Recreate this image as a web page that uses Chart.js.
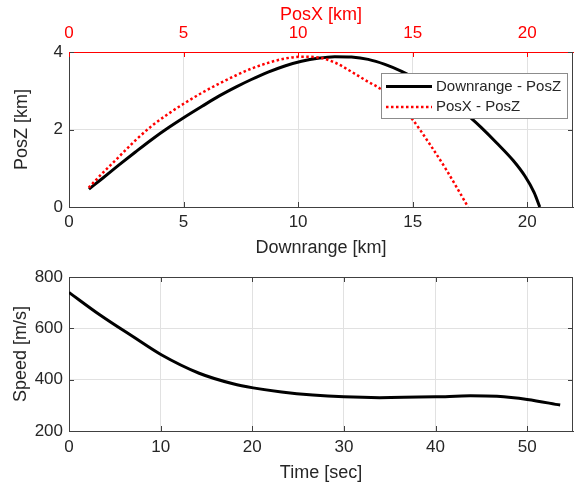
<!DOCTYPE html>
<html>
<head>
<meta charset="utf-8">
<script src="https://cdn.jsdelivr.net/npm/chart.js@4.4.0/dist/chart.umd.min.js"></script>
<style>
    html, body { margin: 0; padding: 0; background: #fff; }
    #wrap { position: relative; width: 583px; height: 487px; }
    canvas { position: absolute; left: 0; }
    #trajChart { top: 0; }
    #speedChart { top: 258px; }
</style>
</head>
<body>
<div id="wrap">
    <canvas id="trajChart" width="583" height="258"></canvas>
    <canvas id="speedChart" width="583" height="229"></canvas>
</div>
<script>
// trajectory: downrange vs altitude [km]
const downrange = [0.87, 1.44, 2.17, 2.90, 3.63, 4.35, 5.02, 5.81, 6.54, 7.30, 7.96, 8.69, 9.42, 10.15,
    10.87, 11.60, 12.33, 13.06, 13.79, 14.52, 15.30, 16.20, 16.90, 17.50, 18.00, 18.66, 19.39, 19.90, 20.30, 20.55];
const posZ = [0.46, 0.73, 1.08, 1.42, 1.75, 2.05, 2.31, 2.60, 2.86, 3.10, 3.29, 3.48, 3.64, 3.76,
    3.84, 3.88, 3.87, 3.81, 3.68, 3.50, 3.26, 2.93, 2.62, 2.32, 2.05, 1.66, 1.20, 0.80, 0.38, 0.00];

// trajectory: PosX vs altitude [km]
const posX = [0.86, 1.44, 2.17, 2.90, 3.63, 4.35, 5.02, 5.81, 6.54, 7.30, 7.96, 8.69, 9.42, 10.15,
    10.87, 11.60, 12.33, 13.06, 13.57, 14.30, 14.95, 15.75, 16.48, 17.42];
const posZx = [0.50, 0.86, 1.29, 1.72, 2.10, 2.41, 2.67, 2.95, 3.18, 3.40, 3.57, 3.72, 3.83, 3.88,
    3.86, 3.73, 3.49, 3.23, 3.06, 2.70, 2.29, 1.62, 0.95, 0.00];

// speed over flight time
const timeSec = [0, 3.35, 6.97, 10.07, 14.2, 17.9, 20.1, 23.2, 26.6, 30.0, 33.9, 40.0, 43.8, 46.7, 50.0, 53.6];
const speed = [740, 653, 568, 497, 425, 384, 368, 352, 340, 333, 330, 333, 337, 335, 323, 301];

const rangeTicks = [0, 5, 10, 15, 20];
const altTicks = [0, 2, 4];
const timeTicks = [0, 10, 20, 30, 40, 50];
const speedTicks = [200, 400, 600, 800];

const FONT = '"Liberation Sans", Arial, Helvetica, sans-serif';
const TEXT = '#262626';
const AXIS = '#404040';
const GRID = '#e1e1e1';
const RED = '#ff0000';

Chart.defaults.font.family = FONT;
Chart.defaults.color = TEXT;

function points(xs, ys) {
    return xs.map(function (x, i) { return { x: x, y: ys[i] }; });
}

function fixedTicks(values) {
    return function (scale) {
        scale.ticks = values.map(function (v) { return { value: v }; });
    };
}

function fixHeight(h) {
    return function (scale) { scale.height = h; };
}

function fixWidth(w) {
    return function (scale) { scale.width = w; };
}

// closes the plot box and adds short inward tick marks on every side
const axesBox = {
    id: 'axesBox',
    afterDatasetsDraw: function (chart, args, opts) {
        const ctx = chart.ctx;
        const a = chart.chartArea;
        const len = 5;
        const xs = chart.scales.x, ys = chart.scales.y;
        const top = opts.topScale ? chart.scales[opts.topScale] : xs;
        ctx.save();
        ctx.lineWidth = 1;
        ctx.strokeStyle = AXIS;
        ctx.beginPath();
        ctx.moveTo(Math.round(a.right) - 0.5, a.top);
        ctx.lineTo(Math.round(a.right) - 0.5, a.bottom);
        if (!opts.topScale) {
            ctx.moveTo(a.left, Math.round(a.top) + 0.5);
            ctx.lineTo(a.right, Math.round(a.top) + 0.5);
        }
        xs.ticks.forEach(function (t) {
            const px = Math.round(xs.getPixelForValue(t.value)) + 0.5;
            ctx.moveTo(px, a.bottom);
            ctx.lineTo(px, a.bottom - len);
        });
        ys.ticks.forEach(function (t) {
            const py = Math.round(ys.getPixelForValue(t.value)) + 0.5;
            ctx.moveTo(a.left, py);
            ctx.lineTo(a.left + len, py);
            ctx.moveTo(a.right, py);
            ctx.lineTo(a.right - len, py);
        });
        ctx.stroke();
        ctx.strokeStyle = opts.topColor || AXIS;
        ctx.beginPath();
        top.ticks.forEach(function (t) {
            const px = Math.round(top.getPixelForValue(t.value)) + 0.5;
            ctx.moveTo(px, a.top);
            ctx.lineTo(px, a.top + len);
        });
        ctx.stroke();
        ctx.restore();
    }
};

// boxed legend sitting inside the plot area, upper right
const insetLegend = {
    id: 'insetLegend',
    afterDatasetsDraw: function (chart, args, opts) {
        if (!opts.show) return;
        const ctx = chart.ctx;
        const a = chart.chartArea;
        const w = 186, h = 45;
        const x0 = Math.round(a.right - 6 - w), y0 = Math.round(a.top + 21);
        ctx.save();
        ctx.fillStyle = '#fff';
        ctx.fillRect(x0, y0, w, h);
        ctx.strokeStyle = '#8c8c8c';
        ctx.lineWidth = 1;
        ctx.strokeRect(x0 + 0.5, y0 + 0.5, w, h);
        ctx.font = '15px ' + FONT;
        ctx.textBaseline = 'middle';
        ctx.textAlign = 'left';
        chart.data.datasets.forEach(function (ds, i) {
            const y = y0 + 13.5 + i * 20.5;
            ctx.beginPath();
            ctx.strokeStyle = ds.borderColor;
            ctx.lineWidth = ds.borderWidth;
            ctx.setLineDash(ds.borderDash || []);
            ctx.moveTo(x0 + 5, y);
            ctx.lineTo(x0 + 51, y);
            ctx.stroke();
            ctx.setLineDash([]);
            ctx.fillStyle = TEXT;
            ctx.fillText(ds.label, x0 + 55, y);
        });
        ctx.restore();
    }
};

function tickFont() { return { size: 17, family: FONT }; }
function titleFont() { return { size: 18, family: FONT, lineHeight: 1 }; }

new Chart(document.getElementById('trajChart'), {
    type: 'line',
    data: {
        datasets: [
            {
                label: 'Downrange - PosZ',
                data: points(downrange, posZ),
                xAxisID: 'x',
                yAxisID: 'y',
                borderColor: '#000000',
                borderWidth: 3,
                pointRadius: 0,
                cubicInterpolationMode: 'monotone',
                order: 1
            },
            {
                label: 'PosX - PosZ',
                data: points(posX, posZx),
                xAxisID: 'x2',
                yAxisID: 'y',
                borderColor: RED,
                borderWidth: 2.5,
                borderDash: [2.5, 2.5],
                pointRadius: 0,
                cubicInterpolationMode: 'monotone',
                order: 0
            }
        ]
    },
    options: {
        responsive: false,
        animation: false,
        devicePixelRatio: 1,
        layout: { padding: { left: 0, right: 10, top: 0, bottom: 0 } },
        plugins: {
            legend: { display: false },
            tooltip: { enabled: false },
            axesBox: { topScale: 'x2', topColor: RED },
            insetLegend: { show: true }
        },
        scales: {
            x: {
                type: 'linear',
                position: 'bottom',
                min: 0,
                max: 22,
                afterBuildTicks: fixedTicks(rangeTicks),
                afterFit: fixHeight(258 - 207),
                ticks: { font: tickFont(), padding: 5, color: TEXT, maxRotation: 0 },
                grid: { color: GRID, drawTicks: false },
                border: { color: AXIS },
                title: { display: true, text: 'Downrange [km]', font: titleFont(), padding: { top: 0, bottom: 1 }, color: TEXT }
            },
            x2: {
                type: 'linear',
                position: 'top',
                min: 0,
                max: 22,
                afterBuildTicks: fixedTicks(rangeTicks),
                afterFit: fixHeight(52),
                ticks: { font: tickFont(), padding: 8.5, color: RED, maxRotation: 0 },
                grid: { display: false, drawTicks: false },
                border: { color: RED },
                title: { display: true, text: 'PosX [km]', font: titleFont(), padding: { top: 6.5, bottom: 0 }, color: RED }
            },
            y: {
                type: 'linear',
                position: 'left',
                min: 0,
                max: 4,
                afterBuildTicks: fixedTicks(altTicks),
                afterFit: fixWidth(69),
                ticks: { font: tickFont(), padding: 6, color: TEXT },
                grid: { color: GRID, drawTicks: false },
                border: { color: AXIS },
                title: { display: true, text: 'PosZ [km]', font: titleFont(), padding: { top: 13, bottom: 0 }, color: TEXT }
            }
        }
    },
    plugins: [axesBox, insetLegend]
});

new Chart(document.getElementById('speedChart'), {
    type: 'line',
    data: {
        datasets: [
            {
                label: 'Speed',
                data: points(timeSec, speed),
                borderColor: '#000000',
                borderWidth: 3,
                pointRadius: 0,
                cubicInterpolationMode: 'monotone'
            }
        ]
    },
    options: {
        responsive: false,
        animation: false,
        devicePixelRatio: 1,
        layout: { padding: { left: 0, right: 10, top: 19, bottom: 0 } },
        plugins: {
            legend: { display: false },
            tooltip: { enabled: false },
            axesBox: {},
            insetLegend: { show: false }
        },
        scales: {
            x: {
                type: 'linear',
                position: 'bottom',
                min: 0,
                max: 55,
                afterBuildTicks: fixedTicks(timeTicks),
                afterFit: fixHeight(229 - 173),
                ticks: { font: tickFont(), padding: 6, color: TEXT, maxRotation: 0 },
                grid: { color: GRID, drawTicks: false },
                border: { color: AXIS },
                title: { display: true, text: 'Time [sec]', font: titleFont(), padding: { top: 0, bottom: 4.5 }, color: TEXT }
            },
            y: {
                type: 'linear',
                position: 'left',
                min: 200,
                max: 800,
                afterBuildTicks: fixedTicks(speedTicks),
                afterFit: fixWidth(69),
                ticks: { font: tickFont(), padding: 6, color: TEXT },
                grid: { color: GRID, drawTicks: false },
                border: { color: AXIS },
                title: { display: true, text: 'Speed [m/s]', font: titleFont(), padding: { top: 12, bottom: 0 }, color: TEXT }
            }
        }
    },
    plugins: [axesBox, insetLegend]
});
</script>
</body>
</html>
